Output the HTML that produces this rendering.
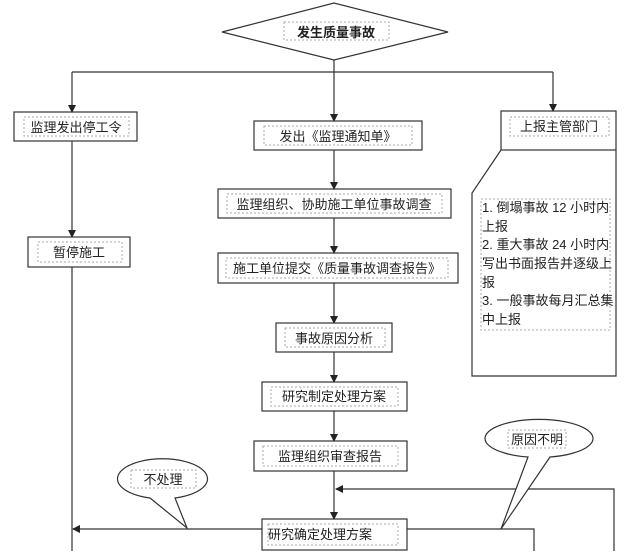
<!DOCTYPE html>
<html><head><meta charset="utf-8"><style>
html,body{margin:0;padding:0;background:#fff}
svg text{font-family:"Liberation Sans","Noto Sans CJK SC",sans-serif;font-size:13px;fill:#222}
</style></head><body>
<svg width="640" height="551" viewBox="0 0 640 551" xmlns="http://www.w3.org/2000/svg">
<defs><marker id="a" markerWidth="8" markerHeight="8" refX="7" refY="4" orient="auto" markerUnits="userSpaceOnUse"><path d="M0,0 L8,4 L0,8 z" fill="#222"/></marker></defs>
<g fill="none" stroke="#333" stroke-width="1.2">
<polygon points="222,32 334,3 448,32 334,60" fill="#fff"/>
<line x1="334" y1="60" x2="334" y2="72"/>
<line x1="72" y1="72" x2="553" y2="72"/>
<line x1="72" y1="72" x2="72" y2="112" marker-end="url(#a)"/>
<line x1="334" y1="72" x2="334" y2="121" marker-end="url(#a)"/>
<line x1="553" y1="72" x2="553" y2="111" marker-end="url(#a)"/>
<rect x="14" y="112" width="123" height="29"/>
<rect x="254" y="121" width="168" height="29"/>
<rect x="501" y="111" width="115" height="39"/>
<polyline points="501,150 472,193 472,376 616,376 616,150"/>
<line x1="72" y1="141" x2="72" y2="237" marker-end="url(#a)"/>
<rect x="28" y="237" width="102" height="30"/>
<line x1="72" y1="267" x2="72" y2="551"/>
<line x1="334" y1="150" x2="334" y2="189" marker-end="url(#a)"/>
<rect x="218" y="189" width="233" height="29"/>
<line x1="334" y1="218" x2="334" y2="253" marker-end="url(#a)"/>
<rect x="218" y="253" width="240" height="30"/>
<line x1="334" y1="283" x2="334" y2="323" marker-end="url(#a)"/>
<rect x="276" y="323" width="116" height="29"/>
<line x1="334" y1="352" x2="334" y2="382" marker-end="url(#a)"/>
<rect x="262" y="382" width="145" height="29"/>
<line x1="334" y1="411" x2="334" y2="441" marker-end="url(#a)"/>
<rect x="254" y="441" width="153" height="30"/>
<line x1="334" y1="471" x2="334" y2="519" marker-end="url(#a)"/>
<rect x="262" y="519" width="145" height="31"/>
<line x1="262" y1="529" x2="73" y2="529" marker-end="url(#a)"/>
<polyline points="407,529 534,529 534,551"/>
<polyline points="614,551 614,489 336,489" marker-end="url(#a)"/>
<path d="M150,498 A45,20 0 1 1 175,498 L187,528 Z" fill="#fff"/>
<path d="M528,457 A54,19 0 1 1 550,457 L501,529 Z" fill="#fff"/>
</g>
<g fill="none" stroke="#aaa" stroke-width="1" stroke-dasharray="2,2">
<rect x="284" y="22" width="105" height="18"/>
<rect x="24" y="117" width="105" height="19"/>
<rect x="264" y="126" width="148" height="19"/>
<rect x="510" y="117" width="99" height="19"/>
<rect x="481" y="199" width="129" height="131"/>
<rect x="38" y="242" width="84" height="20"/>
<rect x="227" y="194" width="215" height="19"/>
<rect x="226" y="258" width="222" height="20"/>
<rect x="285" y="328" width="100" height="19"/>
<rect x="271" y="387" width="127" height="19"/>
<rect x="263" y="446" width="135" height="20"/>
<rect x="268" y="524" width="130" height="21"/>
<rect x="131" y="470" width="65" height="18"/>
<rect x="508" y="430" width="58" height="18"/>
</g>
<text x="336" y="37" text-anchor="middle" font-weight="bold">发生质量事故</text>
<text x="76" y="132" text-anchor="middle">监理发出停工令</text>
<text x="338" y="141" text-anchor="middle">发出《监理通知单》</text>
<text x="559" y="131" text-anchor="middle">上报主管部门</text>
<text x="79" y="257" text-anchor="middle">暂停施工</text>
<text x="334" y="209" text-anchor="middle">监理组织、协助施工单位事故调查</text>
<text x="337" y="273" text-anchor="middle">施工单位提交《质量事故调查报告》</text>
<text x="334" y="343" text-anchor="middle">事故原因分析</text>
<text x="334" y="401" text-anchor="middle">研究制定处理方案</text>
<text x="330" y="461" text-anchor="middle">监理组织审查报告</text>
<text x="320" y="539" text-anchor="middle">研究确定处理方案</text>
<text x="163" y="484" text-anchor="middle">不处理</text>
<text x="537" y="444" text-anchor="middle">原因不明</text>
<text x="482" y="212">1. 倒塌事故 12 小时内</text>
<text x="482" y="231">上报</text>
<text x="482" y="249">2. 重大事故 24 小时内</text>
<text x="482" y="268">写出书面报告并逐级上</text>
<text x="482" y="287">报</text>
<text x="482" y="305">3. 一般事故每月汇总集</text>
<text x="482" y="324">中上报</text>
</svg>
</body></html>
